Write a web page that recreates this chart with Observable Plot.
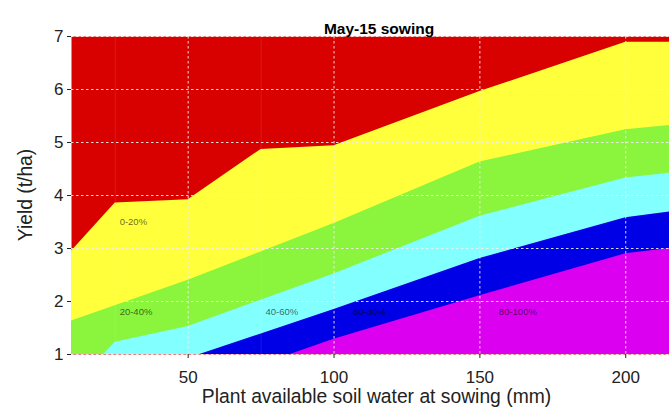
<!DOCTYPE html>
<html>
<head>
<meta charset="utf-8">
<script src="https://cdn.jsdelivr.net/npm/d3@7"></script>
<script src="https://cdn.jsdelivr.net/npm/@observablehq/plot@0.6"></script>
<style>
  html, body { margin: 0; padding: 0; background: #fff; }
  #chart svg { display: block; }
</style>
</head>
<body>
<div id="chart"></div>
<script>
// ---- data ----
const title = "May-15 sowing";
const xLabel = "Plant available soil water at sowing (mm)";
const yLabel = "Yield (t/ha)";
const xTicks = [50, 100, 150, 200];
const yTicks = [1, 2, 3, 4, 5, 6, 7];
const xMinor = [25, 75];

// upper boundary of each band (band fills down to the bottom of the chart)
const yellowX = [10, 25, 50, 75, 100, 150, 200, 215];
const yellowY = [2.95, 3.86, 3.92, 4.87, 4.94, 5.96, 6.89, 6.89];
const greenX = [10, 50, 100, 150, 200, 215];
const greenY = [1.63, 2.40, 3.47, 4.63, 5.24, 5.32];
const cyanX = [21, 25, 50, 100, 150, 200, 215];
const cyanY = [1.0, 1.23, 1.53, 2.52, 3.61, 4.33, 4.42];
const blueX = [54, 100, 150, 200, 215];
const blueY = [1.0, 1.85, 2.81, 3.58, 3.69];
const magentaX = [85, 100, 150, 200, 215];
const magentaY = [1.0, 1.29, 2.11, 2.90, 3.00];

const bandLabels = ["0-20%", "20-40%", "40-60%", "60-80%", "80-100%"];
const bandLabelX = [26.5, 26.5, 76.5, 106.5, 156.5];
const bandLabelY = [3.5, 1.81, 1.81, 1.81, 1.81];

const colors = {
  red: "#d90000", yellow: "#ffff3c", green: "#8af53c",
  cyan: "#82ffff", blue: "#0000e6", magenta: "#dc00f0"
};

const zipXY = (xs, ys) => xs.map((x, i) => ({x, y: ys[i]}));
const bands = [
  {pts: zipXY(yellowX, yellowY), fill: colors.yellow},
  {pts: zipXY(greenX, greenY), fill: colors.green},
  {pts: zipXY(cyanX, cyanY), fill: colors.cyan},
  {pts: zipXY(blueX, blueY), fill: colors.blue},
  {pts: zipXY(magentaX, magentaY), fill: colors.magenta}
];
const labels = bandLabels.map((t, i) => ({t, x: bandLabelX[i], y: bandLabelY[i]}));

const chart = Plot.plot({
  width: 669,
  height: 411,
  marginLeft: 71,
  marginRight: 0,
  marginTop: 36,
  marginBottom: 57,
  style: {fontFamily: "'Liberation Sans', Arial, sans-serif", background: "#fff", color: "#222"},
  x: {domain: [10, 215]},
  y: {domain: [1, 7]},
  marks: [
    Plot.frame({fill: colors.red, stroke: null}),
    ...bands.map(b => Plot.areaY(b.pts, {x: "x", y1: 1, y2: "y", fill: b.fill, curve: "linear"})),
    Plot.ruleX(xMinor, {stroke: "#fff", strokeOpacity: 0.1}),
    Plot.ruleY(yTicks, {stroke: "#eee", strokeOpacity: 0.9, strokeDasharray: "2.5,2.5"}),
    Plot.ruleX(xTicks, {stroke: "#eee", strokeOpacity: 0.9, strokeDasharray: "2.5,2.5"}),
    Plot.text(labels, {x: "x", y: "y", text: "t", textAnchor: "start", fontSize: 9.5, fill: "#000", fillOpacity: 0.62}),
    Plot.axisX({ticks: xTicks, tickFormat: "d", tickSize: 4, tickPadding: 12, fontSize: 17, label: null}),
    Plot.axisY({ticks: yTicks, tickFormat: "d", tickSize: 4, tickPadding: 4, fontSize: 17, label: null})
  ]
});

// titles as real text
const svg = d3.select(chart);
svg.append("text")
  .attr("x", 379).attr("y", 34)
  .attr("text-anchor", "middle")
  .style("font-size", "15.5px").style("font-weight", "bold").attr("fill", "#000")
  .text(title);
svg.append("text")
  .attr("x", 376.5).attr("y", 403)
  .attr("text-anchor", "middle")
  .style("font-size", "19.3px").attr("fill", "#222")
  .text(xLabel);
svg.append("text")
  .attr("transform", "translate(32,195) rotate(-90)")
  .attr("text-anchor", "middle")
  .style("font-size", "19.3px").attr("fill", "#222")
  .text(yLabel);

document.getElementById("chart").appendChild(chart);
</script>
</body>
</html>
